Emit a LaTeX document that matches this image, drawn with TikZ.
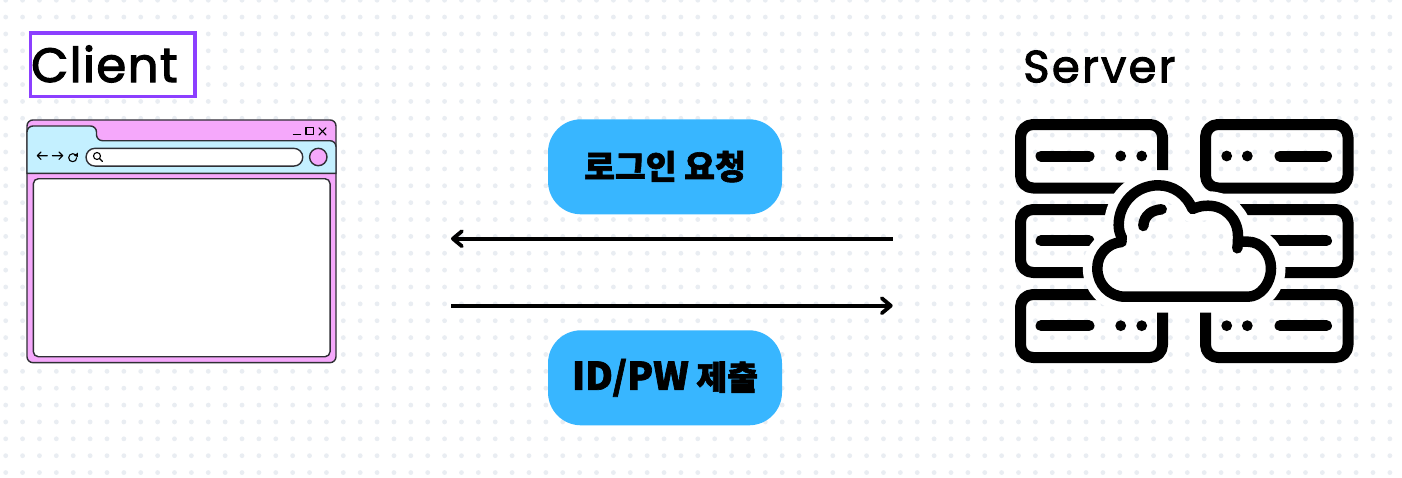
\documentclass[tikz,border=0pt]{standalone}
\usepackage{fontspec}
\usetikzlibrary{arrows.meta}
\setmainfont{Poppins}
\newfontfamily\krfont[FakeBold=1.8]{Noto Sans CJK KR Black}
\newfontfamily\latnfont[LetterSpace=3.2,FakeBold=2.6]{Poppins}
\newfontfamily\latnfontb[LetterSpace=5,FakeBold=2.2]{Poppins}
\definecolor{dotc}{HTML}{E9EDF2}
\definecolor{purpl}{HTML}{8C3FFF}
\definecolor{pinkc}{HTML}{F5A8FB}
\definecolor{skyc}{HTML}{C4F0FF}
\definecolor{pillc}{HTML}{38B6FF}
\definecolor{inkc}{HTML}{2F2F35}
\tikzset{
  titlelabel/.style={inner sep=0pt,anchor=base west,text=black},
  pillbox/.style={fill=pillc,rounded corners=33pt,minimum width=234pt,minimum height=95pt,inner sep=0pt,font=\krfont\fontsize{33.5}{33.5}\selectfont,text=black},
  thin ink/.style={draw=inkc,line width=1.4pt},
  fine ink/.style={draw=black,line width=1.1pt,line cap=round,line join=round},
  flow/.style={draw=black,line width=3.8pt,-{Straight Barb[length=9pt,width=15pt,line cap=round,round]}},
  rack/.style={draw=black,line width=11pt,line join=round,rounded corners=12.5pt},
  rackdash/.style={draw=black,line width=11pt,line cap=round},
  cloudline/.style={draw=black,line width=10.5pt,line cap=round,line join=round},
  halo/.style={draw=white,line width=29pt,line cap=butt,line join=round},
}
\begin{document}
\begin{tikzpicture}[x=1pt,y=-1pt]
\useasboundingbox (0,0) rectangle (1402,477);
\fill[white] (0,0) rectangle (1402,477);
% dotted page
\fill[dotc] \foreach \i in {0,...,82}{\foreach \j in {0,...,28}{ ({5.7+16.88*\i},{0.2+16.87*\j}) circle (2.4pt) }};

% client title
\node[draw=purpl,fill=white,line width=3.8pt,minimum width=164.6pt,minimum height=63.4pt,inner sep=0pt] (clientbox) at (112.7,64.7) {};
\node[titlelabel,font=\latnfont\fontsize{48}{48}\selectfont] (client) at (31,82) {Client};

% browser window
\node[thin ink,fill=pinkc,rounded corners=6pt,minimum width=309pt,minimum height=242.7pt,inner sep=0pt] (browser) at (181.5,241.3) {};
\filldraw[fill=skyc,thin ink] (27,173.3) -- (27,132) [rounded corners=6pt] -- (27,126) -- (96.5,126) -- (96.5,140.7) -- (336,140.7) [rounded corners=0pt] -- (336,173.3) -- cycle;
\node[thin ink,fill=white,rounded corners=5pt,minimum width=296.7pt,minimum height=178pt,inner sep=0pt] (pane) at (181.7,267.7) {};
\node[thin ink,fill=white,rounded corners=8.8pt,minimum width=216.7pt,minimum height=17.7pt,inner sep=0pt] (addr) at (194.4,157.2) {};
\node[thin ink,fill=pinkc,circle,minimum size=17.4pt,inner sep=0pt] (btn) at (318.3,157) {};
\draw[fine ink] (97,156) circle (3.5pt) (99.6,158.6) -- (102.6,161.6);
\draw[fine ink] (47.3,155.7) -- (37.3,155.7) (41,152) -- (37.3,155.7) -- (41,159.4);
\draw[fine ink] (52.3,155.7) -- (62.7,155.7) (59,152) -- (62.7,155.7) -- (59,159.4);
\draw[fine ink] (75.5,154.6) .. controls (74.8,154) and (73.7,153.7) .. (72.7,153.7) .. controls (70.4,153.7) and (68.7,155.5) .. (68.7,157.7) .. controls (68.7,160) and (70.4,161.7) .. (72.7,161.7) .. controls (75,161.7) and (76.7,160) .. (76.7,157.7);
\fill[black] (77.8,152.6) -- (78,157) -- (74,155.8) -- cycle;
\draw[fine ink] (293.3,134.6) -- (300.7,134.6);
\draw[fine ink] (306,127.8) rectangle (313.3,134.6);
\draw[fine ink] (319,127.8) -- (326,135) (326,127.8) -- (319,135);

% flow
\node[pillbox] (req) at (665,166.8) {\raisebox{3.5pt}{로그인 요청}};
\node[pillbox] (sub) at (665,377.8) {\raisebox{3.5pt}{{\fontsize{38}{38}\selectfont ID/PW} 제출}};
\coordinate (ra) at (892.7,238.7);
\coordinate (la) at (451,238.7);
\coordinate (lb) at (451,305.7);
\coordinate (rb) at (892.7,305.7);
\draw[flow] (ra) -- (la);
\draw[flow] (lb) -- (rb);

% server title
\node[titlelabel,font=\latnfontb\fontsize{45}{45}\selectfont] (server) at (1023,82.3) {Server};

% server racks
\draw[rack] (1162.5,170) -- (1162.5,124.5) -- (1020.5,124.5) -- (1020.5,188) -- (1130,188);
\draw[rack] (1205.5,156) -- (1205.5,124.5) -- (1348,124.5) -- (1348,188) -- (1205.5,188) -- (1205.5,156) -- cycle;
\draw[rack] (1110,209.5) -- (1020.5,209.5) -- (1020.5,272.5) -- (1095,272.5);
\draw[rack] (1240,209.5) -- (1348,209.5) -- (1348,272.5) -- (1275,272.5);
\draw[rack] (1100,294.5) -- (1020.5,294.5) -- (1020.5,357.5) -- (1162.5,357.5) -- (1162.5,312.7);
\draw[rack] (1205.5,312.7) -- (1205.5,357.5) -- (1348,357.5) -- (1348,294.5) -- (1265,294.5);
\draw[rackdash] (1041,156) -- (1089,156);
\draw[rackdash] (1280,156) -- (1326.5,156);
\draw[rackdash] (1041,240.7) -- (1089,240.7);
\draw[rackdash] (1265,240.7) -- (1326.5,240.7);
\draw[rackdash] (1041,325.7) -- (1089,325.7);
\draw[rackdash] (1280,325.7) -- (1326.5,325.7);
\fill[black] (1120.7,156) circle (5.4pt) (1141.7,156) circle (5.4pt) (1226.7,156) circle (5.4pt) (1247.3,156) circle (5.4pt)
  (1120.7,325.7) circle (5.4pt) (1141.7,325.7) circle (5.4pt) (1226.7,325.7) circle (5.4pt) (1247.3,325.7) circle (5.4pt);

% cloud
\draw[halo] (1125,296.7) .. controls (1109,296.7) and (1097.3,284) .. (1097.3,268.3) .. controls (1097.3,254) and (1108,243) .. (1121.7,242) .. controls (1119.5,236) and (1118.7,230) .. (1118.7,225) .. controls (1118.7,203) and (1136,185.3) .. (1158.3,185.3) .. controls (1173,185.3) and (1186,194) .. (1193,208) .. controls (1198,206.5) and (1203,205.7) .. (1208,205.7) .. controls (1225,205.7) and (1238,219) .. (1238,236) .. controls (1238,238) and (1238,240) .. (1239,241.7) -- (1248,241.7) .. controls (1261,241.7) and (1271,254) .. (1271,268.3) .. controls (1271,284) and (1260,296.7) .. (1248,296.7) -- cycle;
\draw[cloudline] (1121.7,242) .. controls (1108,243) and (1097.3,254) .. (1097.3,268.3) .. controls (1097.3,284) and (1109,296.7) .. (1125,296.7) -- (1248,296.7) .. controls (1260,296.7) and (1271,284) .. (1271,268.3) .. controls (1271,254) and (1261,241.7) .. (1248,241.7) -- (1240,241.7);
\draw[cloudline] (1122,238) .. controls (1119.5,233) and (1118.7,229) .. (1118.7,225) .. controls (1118.7,203) and (1136,185.3) .. (1158.3,185.3) .. controls (1173,185.3) and (1186,194) .. (1192.5,209) .. controls (1198,206.5) and (1203,205.7) .. (1208,205.7) .. controls (1225,205.7) and (1238,219) .. (1238,236) .. controls (1238,240) and (1238,244) .. (1237.3,248.3);
\draw[cloudline] (1143.3,226) .. controls (1144,215) and (1152,210) .. (1161.7,209.3);
\end{tikzpicture}
\end{document}
